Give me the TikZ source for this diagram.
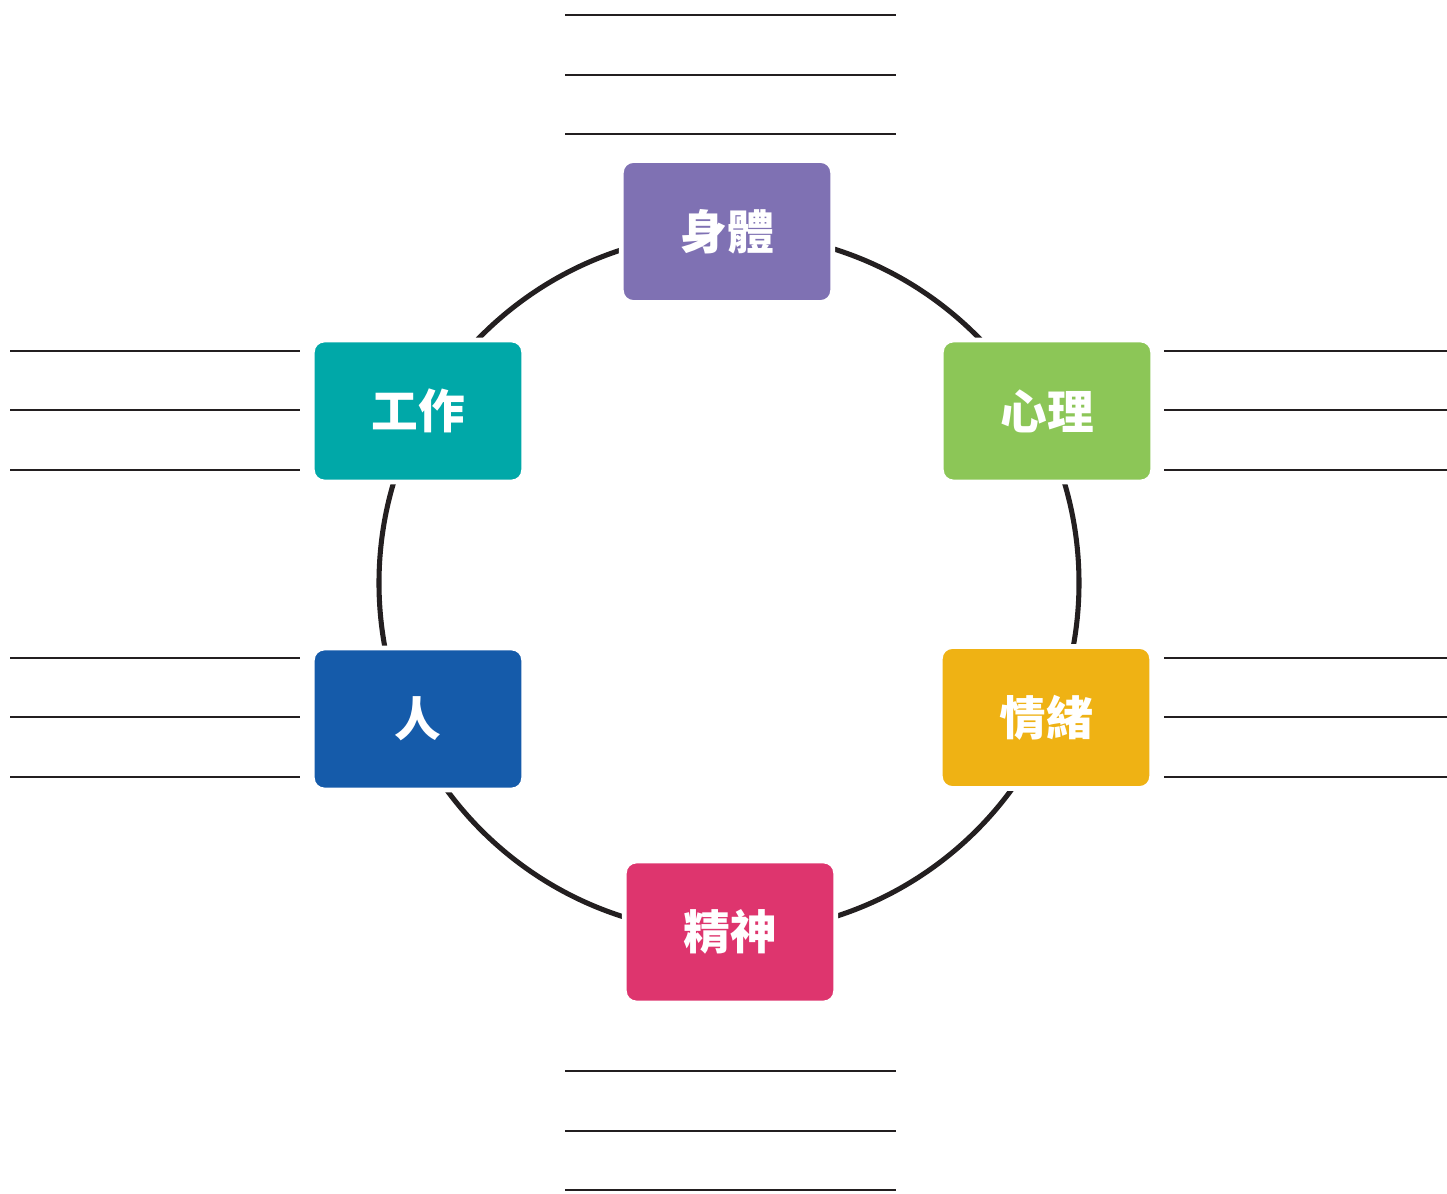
\documentclass[tikz,border=0pt]{standalone}
\usepackage{fontspec}
\newfontfamily\cjk{Noto Sans CJK TC}
\definecolor{cpurple}{HTML}{7F71B3}
\definecolor{cteal}{HTML}{00A8A8}
\definecolor{cgreen}{HTML}{8CC657}
\definecolor{cblue}{HTML}{155BAA}
\definecolor{cgold}{HTML}{EFB214}
\definecolor{cpink}{HTML}{DE356E}
\definecolor{cline}{HTML}{231F20}
\tikzset{
  catbox/.style={draw=white, line width=3.6pt, rounded corners=9pt, minimum width=158.5pt, minimum height=106.5pt, inner sep=0pt, text=white, font=\cjk\bfseries\fontsize{35}{35}\selectfont},
  rule/.style={draw=cline, line width=1.9pt},
}
\begin{document}
\begin{tikzpicture}[x=0.75pt,y=-0.75pt]
\useasboundingbox (0,0) rectangle (1447,1194);
\coordinate (c) at (729,583);
\draw[cline, line width=3.8pt] (c) circle[radius=350*0.75pt];
\node[catbox, fill=cpurple] (body) at (727,231.5) {身體};
\node[catbox, fill=cteal] (work) at (418,411) {工作};
\node[catbox, fill=cgreen] (mind) at (1047,411) {心理};
\node[catbox, fill=cblue] (people) at (418,719) {人};
\node[catbox, fill=cgold] (emo) at (1046,717.5) {情緒};
\node[catbox, fill=cpink] (spirit) at (730,932) {精神};
% rules
\foreach \y in {15,75,134,1071,1131,1190} \draw[rule] (565,\y) -- (896,\y);
\foreach \y in {351,410,470,658,717,777} {
  \draw[rule] (10,\y) -- (300,\y);
  \draw[rule] (1164,\y) -- (1447,\y);
}
\end{tikzpicture}
\end{document}
